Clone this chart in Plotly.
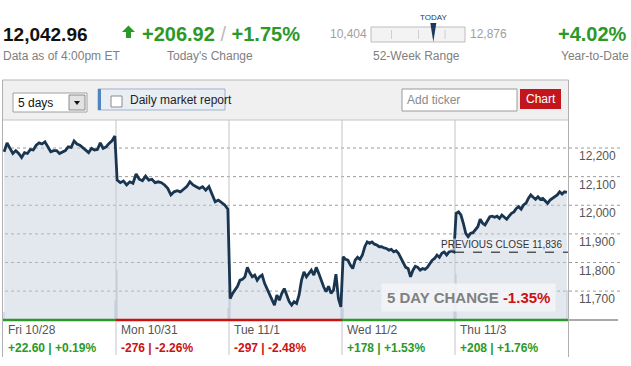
import plotly.graph_objects as go

W, H = 631, 366
FONT = "Liberation Sans, Arial, sans-serif"

# ---------------- data ----------------
day_labels = ["Fri 10/28", "Mon 10/31", "Tue 11/1", "Wed 11/2", "Thu 11/3"]
day_change_pts = ["+22.60", "-276", "-297", "+178", "+208"]
day_change_pct = ["+0.19%", "-2.26%", "-2.48%", "+1.53%", "+1.76%"]
day_up = [True, False, False, True, True]

fri_prices = [12187, 12218, 12199, 12181, 12191, 12181, 12167, 12184, 12181, 12195,
              12193, 12210, 12218, 12214, 12222, 12202, 12187, 12191, 12191, 12181,
              12187, 12191, 12204, 12202, 12225, 12214, 12210, 12202, 12195, 12184,
              12199, 12193, 12195, 12218, 12199, 12204, 12216, 12225, 12242]
mon_prices = [12088, 12079, 12085, 12071, 12082, 12077, 12109, 12091, 12086, 12102,
              12088, 12091, 12079, 12082, 12079, 12071, 12059, 12036, 12047, 12051,
              12047, 12056, 12065, 12082, 12071, 12065, 12059, 12065, 12053, 12065,
              12039, 12012, 12018, 12009, 12001, 11986]
tue_prices = [11674, 11692, 11703, 11717, 11738, 11741, 11750, 11783, 11764, 11750,
              11756, 11738, 11750, 11756, 11727, 11709, 11686, 11668, 11651, 11686,
              11668, 11692, 11709, 11686, 11663, 11651, 11663, 11657, 11686, 11738,
              11767, 11750, 11762, 11773, 11756, 11783, 11762, 11738, 11715, 11698,
              11717, 11692, 11703, 11759, 11674, 11645]
wed_prices = [11820, 11811, 11808, 11791, 11779, 11808, 11818, 11811, 11826, 11855,
              11872, 11867, 11872, 11864, 11861, 11855, 11855, 11851, 11849, 11843,
              11846, 11837, 11841, 11832, 11814, 11802, 11783, 11779, 11750, 11773,
              11787, 11783, 11773, 11779, 11776, 11783, 11797, 11808, 11814, 11826,
              11818, 11832, 11837, 11826, 11837, 11841, 11837]
thu_prices = [11972, 11977, 11966, 11937, 11902, 11890, 11902, 11904, 11913, 11925,
              11951, 11937, 11931, 11948, 11960, 11962, 11958, 11962, 11954, 11966,
              11960, 11951, 11962, 11972, 11977, 11989, 11995, 11986, 12001, 12007,
              12024, 12036, 12028, 12021, 12030, 12021, 12024, 12016, 12007, 12018,
              12024, 12028, 12036, 12047, 12039, 12047, 12045]
day_prices = [fri_prices, mon_prices, tue_prices, wed_prices, thu_prices]

vol_open = [4, 25, 12, 6, 23]
vol_close = [10, 6, 8, 8, 15]

y_ticks = [11700, 11800, 11900, 12000, 12100, 12200]
y_range = [11599, 12298]

last_price = 12042.96
today_change = 206.92
today_change_pct = 1.75
ytd_pct = 4.02
week52_low = 10404
week52_high = 12876
prev_close = 11836
five_day_change_pct = -1.35

GREEN = "#2a992a"
RED = "#cc1111"

# ---------------- helpers ----------------
shapes, annotations = [], []


def px(x):
    return x / W


def py(y):
    return 1 - y / H


def rect(x0, y0, x1, y1, fill, line=None, lw=1, layer="below"):
    shapes.append(dict(type="rect", xref="paper", yref="paper",
                       x0=px(x0), x1=px(x1), y0=py(y1), y1=py(y0),
                       fillcolor=fill, layer=layer,
                       line=dict(color=line if line else "rgba(0,0,0,0)", width=lw if line else 0)))


def hline(x0, x1, y, color, width=1, dash="solid"):
    shapes.append(dict(type="line", xref="paper", yref="paper", x0=px(x0), x1=px(x1),
                       y0=py(y), y1=py(y), line=dict(color=color, width=width, dash=dash)))


def vline(x, y0, y1, color, width=1):
    shapes.append(dict(type="line", xref="paper", yref="paper", x0=px(x), x1=px(x),
                       y0=py(y0), y1=py(y1), line=dict(color=color, width=width)))


def poly(points, fill):
    d = "M " + " L ".join(f"{px(a):.5f},{py(b):.5f}" for a, b in points) + " Z"
    shapes.append(dict(type="path", xref="paper", yref="paper", path=d,
                       fillcolor=fill, line=dict(width=0)))


def label(text, x, y, size=12, color="#333", xanchor="left", yanchor="middle", **kw):
    annotations.append(dict(text=text, x=px(x), y=py(y), xref="paper", yref="paper",
                            xanchor=xanchor, yanchor=yanchor, showarrow=False,
                            font=dict(size=size, color=color, family=FONT), **kw))


# ---------------- traces ----------------
xs, ys = [], []
for d, prices in enumerate(day_prices):
    n = len(prices)
    for k, v in enumerate(prices):
        xs.append(d + 0.01 + 0.98 * k / (n - 1))
        ys.append(v)

vol_x, vol_y = [], []
for d in range(5):
    vol_x += [d + 0.012, d + 0.988]
    vol_y += [vol_open[d], vol_close[d]]

fig = go.Figure()
fig.add_trace(go.Bar(x=vol_x, y=vol_y, width=0.018, yaxis="y",
                     marker=dict(color="rgba(160,178,200,0.4)", line=dict(width=0))))
fig.add_trace(go.Scatter(x=xs, y=ys, yaxis="y2", mode="lines",
                         line=dict(color="#1a3550", width=2.8),
                         fill="tozeroy", fillcolor="rgba(196,207,222,0.48)"))

# ---------------- header ----------------
label(f"<b>{last_price:,.2f}</b>", 1, 34, size=19, color="#111")
poly([(122, 32), (128.5, 25.5), (135, 32), (131, 32), (131, 38), (126, 38), (126, 32)], GREEN)
label(f"<b><span style='color:{GREEN}'>+{today_change:.2f}</span></b>"
      f" <span style='color:#bbb'>/</span> "
      f"<b><span style='color:{GREEN}'>+{today_change_pct:.2f}%</span></b>",
      140, 34, size=20, color=GREEN)
label(f"{week52_low:,}", 369, 34, size=12, color="#a0a0a0", xanchor="right")
label(f"{week52_high:,}", 468, 34, size=12, color="#a0a0a0")
rect(371, 27, 465, 42, "#f3f3f3", line="#bdbdbd")
for tx in (391.5, 418.5, 445):
    vline(tx, 30, 39, "#cfcfcf")
needle_x = 371 + (last_price - week52_low) / (week52_high - week52_low) * 94
poly([(needle_x - 3, 23), (needle_x + 3, 23), (needle_x, 42)], "#1b3a5e")
label("TODAY", needle_x, 17, size=8, color="#1b3a5e", xanchor="center")
label(f"<b>+{ytd_pct:.2f}%</b>", 629, 34, size=20, color=GREEN, xanchor="right")

label("Data as of 4:00pm ET", 1, 56, size=12, color="#808080")
label("Today's Change", 165, 56, size=12, color="#808080")
label("52-Week Range", 371, 56, size=12, color="#808080")
label("Year-to-Date", 559, 56, size=12, color="#808080")

# ---------------- toolbar ----------------
rect(3, 80, 568, 120, "#f0f0f0")
hline(2.5, 568.5, 80, "#b5b5b5")
hline(3, 568, 120, "#c4c4c4")
vline(2.5, 80, 357, "#b0b0b0")
vline(568.5, 80, 357, "#b0b0b0")

rect(13, 93, 87, 112, "#ffffff", line="#a0a0a0")
rect(69, 95, 85, 110, "#e2e2e2", line="#8a8a8a")
poly([(74, 101), (80, 101), (77, 105)], "#111")
label("5 days", 16, 103, size=12, color="#111")

rect(98, 89, 225, 110, "#e9eef4", line="#9fb3cb")
rect(98, 89, 101, 110, "#4f85c2")
rect(111, 96, 122, 107, "#ffffff", line="#8a8a8a")
label("Daily market report", 128, 99.5, size=12, color="#222")

rect(402, 89, 517, 111, "#ffffff", line="#9a9a9a")
label("Add ticker", 405, 100, size=12, color="#8a8a8a")
rect(520, 89, 561, 109, "#c3161c")
label("Chart", 540.5, 99, size=12, color="#ffffff", xanchor="center")

# ---------------- chart decorations ----------------
for v in y_ticks:
    shapes.append(dict(type="line", xref="paper", yref="y2", x0=px(5), x1=px(621),
                       y0=v, y1=v, layer="below",
                       line=dict(color="#9a9a9a", width=1, dash="dot")))
for d in range(1, 5):
    shapes.append(dict(type="line", xref="x", yref="paper", x0=d, x1=d,
                       y0=py(355), y1=py(120), layer="below",
                       line=dict(color="#c4c4c4", width=1)))
for d in range(5):
    shapes.append(dict(type="line", xref="x", yref="paper", x0=d, x1=d + 1,
                       y0=py(320), y1=py(320),
                       line=dict(color=GREEN if day_up[d] else RED, width=2.5)))
hline(569, 618, 320, "#aaaaaa", width=2)
shapes.append(dict(type="line", xref="x", yref="y2", x0=4, x1=5,
                   y0=prev_close, y1=prev_close,
                   line=dict(color="#111", width=1, dash="dash")))

annotations.append(dict(text=f"PREVIOUS CLOSE {prev_close:,}", xref="x", yref="y2",
                        x=5, y=prev_close, xanchor="right", yanchor="bottom", xshift=-5,
                        yshift=1, showarrow=False, bgcolor="rgba(240,243,247,0.6)",
                        borderpad=0, font=dict(size=10, color="#333", family=FONT)))
label(f"<b><span style='color:#808080'>5 DAY CHANGE</span> "
      f"<span style='color:{RED}'>{five_day_change_pct:+.2f}%</span></b>",
      468, 297.5, size=15, color="#808080", xanchor="center",
      bgcolor="rgba(243,245,248,0.85)", borderpad=5)

for d in range(5):
    annotations.append(dict(text=day_labels[d], xref="x", yref="paper", x=d, y=py(330),
                            xanchor="left", yanchor="middle", xshift=2.5, showarrow=False,
                            font=dict(size=12, color="#555", family=FONT)))
    annotations.append(dict(text=f"<b>{day_change_pts[d]} | {day_change_pct[d]}</b>",
                            xref="x", yref="paper", x=d, y=py(347.5),
                            xanchor="left", yanchor="middle", xshift=2.5, showarrow=False,
                            font=dict(size=12, color=GREEN if day_up[d] else RED,
                                      family=FONT)))

fig.update_layout(
    width=W, height=H, autosize=False,
    margin=dict(l=0, r=0, t=0, b=0),
    paper_bgcolor="#ffffff", plot_bgcolor="rgba(0,0,0,0)",
    showlegend=False, hovermode=False, bargap=0,
    font=dict(family=FONT),
    xaxis=dict(domain=[px(3), px(568)], range=[0, 5], visible=False, fixedrange=True),
    yaxis=dict(domain=[py(320), py(120)], range=[0, 100], visible=False, fixedrange=True),
    yaxis2=dict(overlaying="y", side="right", anchor="x", range=y_range,
                tickvals=y_ticks, tickformat=",d", showgrid=False, zeroline=False,
                showline=False, ticks="", ticklabelstandoff=10, ticklabelshift=8,
                tickfont=dict(size=12, color="#555", family=FONT), fixedrange=True),
    shapes=shapes, annotations=annotations,
)

fig.write_html("out.html", config={"displayModeBar": False},
               post_script="document.body.style.margin='0';"
                           "document.body.style.overflow='hidden';")
